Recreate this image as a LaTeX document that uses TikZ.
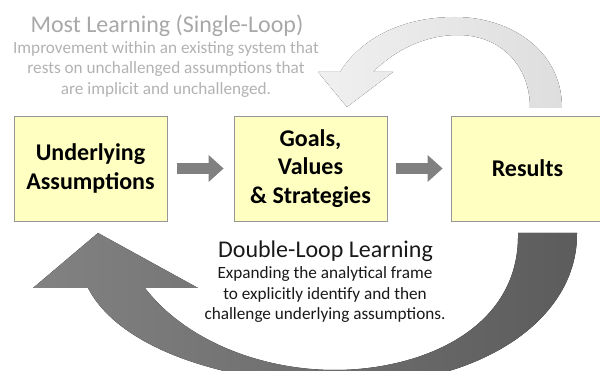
\documentclass[tikz,border=0pt]{standalone}
\usepackage{fontspec}
\setmainfont{Carlito}
\usetikzlibrary{arrows.meta}
\definecolor{boxfill}{RGB}{255,255,194}
\definecolor{boxline}{RGB}{150,150,150}
\definecolor{smallarrow}{RGB}{128,128,128}
\definecolor{fainttitle}{RGB}{168,168,168}
\definecolor{faintbody}{RGB}{178,178,178}
\definecolor{darktext}{RGB}{25,25,25}
\definecolor{loopA}{RGB}{240,240,240}
\definecolor{loopB}{RGB}{222,222,222}
\definecolor{dloopA}{RGB}{130,130,130}
\definecolor{dloopB}{RGB}{92,92,92}
\begin{document}
\begin{tikzpicture}[x=1pt,y=-1pt,
  stagebox/.style={draw=boxline, line width=0.8pt, fill=boxfill,
    minimum width=153pt, minimum height=105pt, inner sep=0pt, align=center,
    font=\fontsize{24}{28.5}\selectfont\bfseries, text=black},
  blockarrow/.style={draw=smallarrow, line width=11pt,
    -{Triangle[width=26pt,length=15pt]}},
  titletext/.style={font=\fontsize{24}{28}\selectfont, anchor=base, inner sep=0pt},
  bodytext/.style={font=\fontsize{17.2}{20.7}\selectfont, anchor=base, align=center, inner sep=0pt}
]
\useasboundingbox (0,0) rectangle (600,371);
\clip (0,0) rectangle (600,371);

% single-loop (faint) curved arrow
\fill[left color=loopA, right color=loopB]
  (530,108) -- (562,108)
  .. controls (562,50) and (510,17) .. (455,17)
  .. controls (400,17) and (360,40) .. (340,72)
  -- (318,72) -- (347,107) -- (393,72) -- (373,72)
  .. controls (395,50) and (425,35) .. (458,35)
  .. controls (500,35) and (530,65) .. (530,108) -- cycle;

% double-loop (dark) curved arrow
\fill[left color=dloopA, right color=dloopB]
  (518,233) -- (577,233)
  .. controls (578,320) and (480,385) .. (350,385)
  .. controls (230,385) and (120,350) .. (88,288)
  -- (33,288) -- (98,233) -- (198,288) -- (145,288)
  .. controls (185,340) and (260,370) .. (335,370)
  .. controls (420,370) and (520,330) .. (518,233) -- cycle;

% stages
\node[stagebox] (ua) at (90.5,168.5) {Underlying\\Assumptions};
\node[stagebox] (gv) at (310.5,168.5) {Goals,\\Values\\\& Strategies};
\node[stagebox] (rs) at (527.5,168.5) {Results};

\draw[blockarrow] ([xshift=10pt]ua.east) -- ([xshift=-10pt]gv.west);
\draw[blockarrow] ([xshift=9pt]gv.east) -- ([xshift=-8pt]rs.west);

% texts (base anchor = baseline of the last line)
\node[titletext, text=fainttitle] (sltitle) at (167,33) {Most Learning (Single-Loop)};
\node[bodytext, text=faintbody] (slbody) at (166,94.5)
  {Improvement within an existing system that\\rests on unchallenged assumptions that\\are implicit and unchallenged.};
\node[titletext, text=darktext] (dltitle) at (325.5,258) {Double-Loop Learning};
\node[bodytext, text=darktext] (dlbody) at (325,320)
  {Expanding the analytical frame\\to explicitly identify and then\\challenge underlying assumptions.};
\end{tikzpicture}
\end{document}
